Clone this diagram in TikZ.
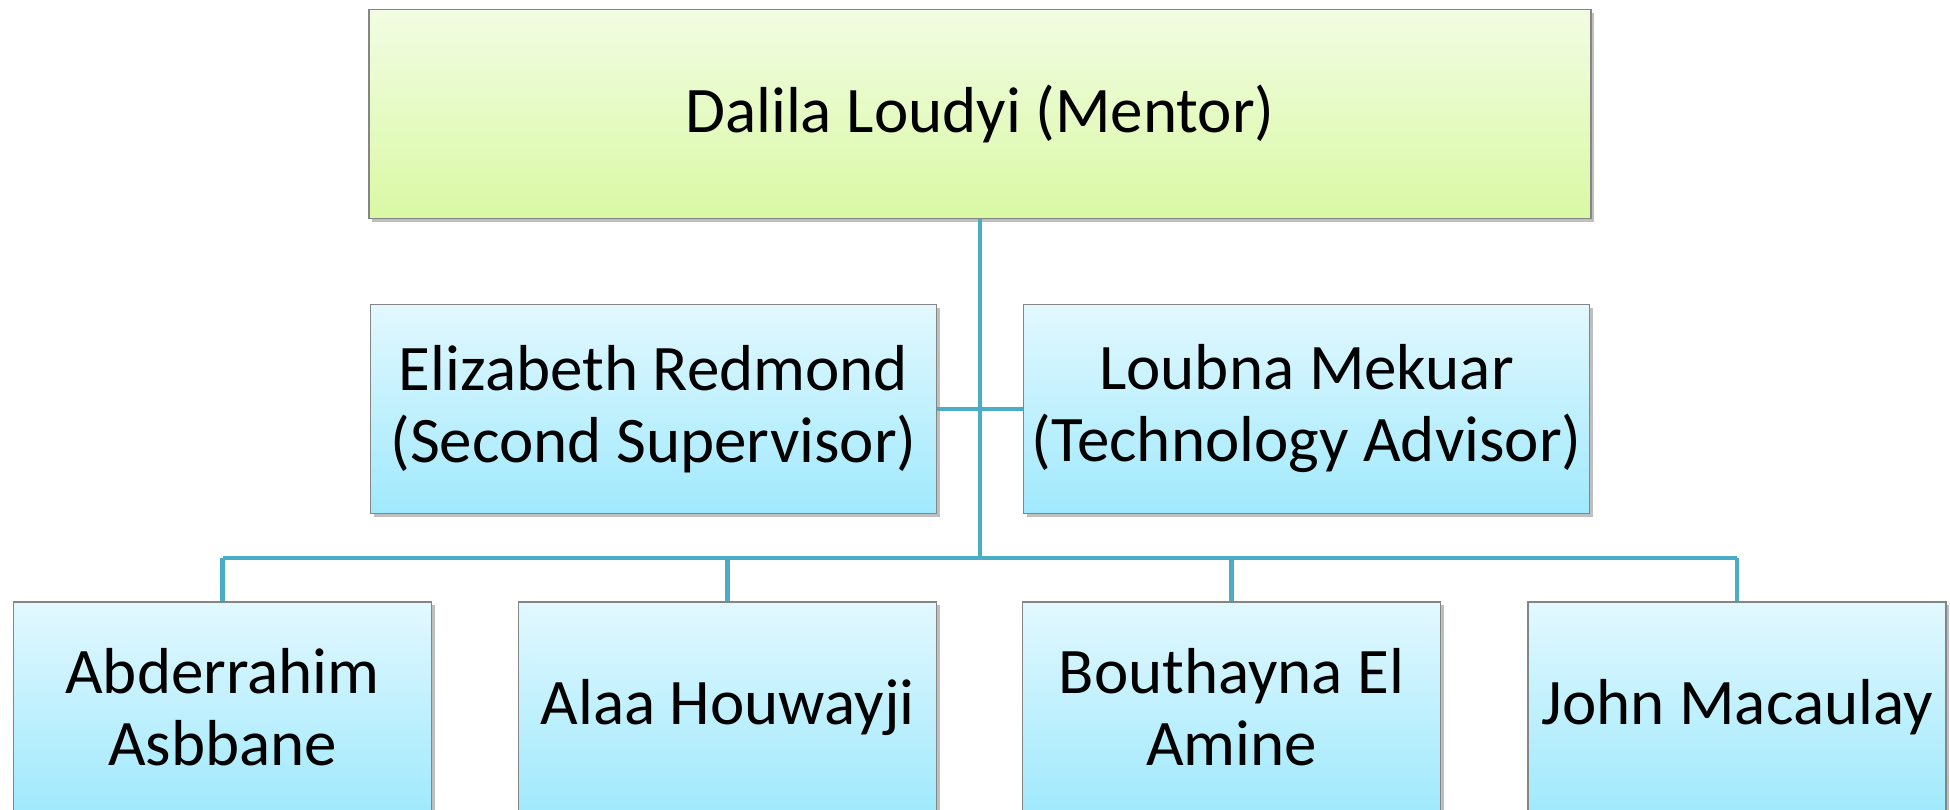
\documentclass[tikz,border=0pt]{standalone}
\usepackage{fontspec}
\setmainfont{Carlito}
\usetikzlibrary{shadows}
\definecolor{linkc}{HTML}{4BACC6}
\definecolor{edgec}{HTML}{858585}
\definecolor{gtop}{HTML}{F2FCE3}
\definecolor{gbot}{HTML}{D9F9A4}
\definecolor{btop}{HTML}{E2F8FE}
\definecolor{bbot}{HTML}{A0E9FD}
\tikzset{
  box/.style={draw=edgec, line width=0.7pt, rectangle, align=center,
    font=\fontsize{32.5pt}{36pt}\selectfont, inner sep=0pt,
    drop shadow={shadow xshift=1.5pt, shadow yshift=-1.5pt, opacity=0.25, fill=black}},
  greenbox/.style={box, top color=gtop, bottom color=gbot, minimum width=611pt, minimum height=104.5pt},
  midbox/.style={box, top color=btop, bottom color=bbot, minimum width=283pt, minimum height=104.5pt},
  lowbox/.style={box, top color=btop, bottom color=bbot, minimum width=209pt, minimum height=105pt},
  link/.style={draw=linkc, line width=2.4pt}
}
\begin{document}
\begin{tikzpicture}[x=0.5pt, y=-0.5pt]
\clip (0,0) rectangle (1950,809);
\useasboundingbox (0,0) rectangle (1950,809);
\fill[white] (0,0) rectangle (1950,809);
\coordinate (hub) at (980,558);
\node[greenbox] (top) at (980,114) {Dalila Loudyi (Mentor)};
\node[midbox] (ml) at (653.5,409) {Elizabeth Redmond\\(Second Supervisor)};
\node[midbox] (mr) at (1306.5,409) {Loubna Mekuar\\(Technology Advisor)};
\node[lowbox] (b1) at (222.5,707) {Abderrahim\\Asbbane};
\node[lowbox] (b2) at (727.5,707) {Alaa Houwayji};
\node[lowbox] (b3) at (1231.5,707) {Bouthayna El\\Amine};
\node[lowbox] (b4) at (1737,707) {John Macaulay};
\draw[link] (top.south) -- (hub);
\draw[link] (ml.east) -- (mr.west);
\draw[link] (b1.north |- hub) -- (b4.north |- hub);
\foreach \b in {b1,b2,b3,b4} { \draw[link] (\b.north |- hub) -- (\b.north); }
\end{tikzpicture}
\end{document}
